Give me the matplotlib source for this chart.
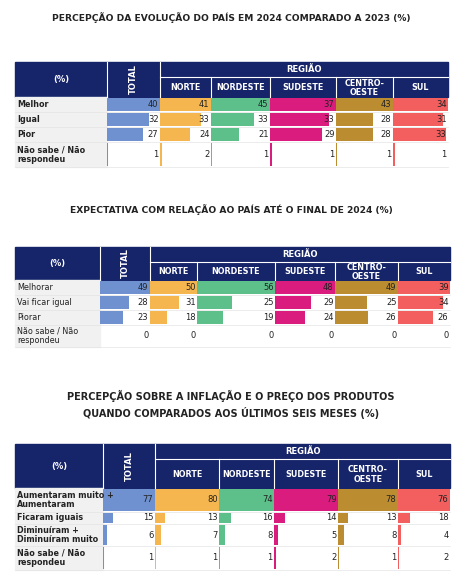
import matplotlib
matplotlib.use("Agg")
import matplotlib.pyplot as plt
from matplotlib.patches import Rectangle

# ── data ──────────────────────────────────────
regions = ["NORTE", "NORDESTE", "SUDESTE", "CENTRO-\nOESTE", "SUL"]

t1_title = "PERCEPÇÃO DA EVOLUÇÃO DO PAÍS EM 2024 COMPARADO A 2023 (%)"
t1_rows = ["Melhor", "Igual", "Pior", "Não sabe / Não\nrespondeu"]
t1_vals = [[40, 41, 45, 37, 43, 34],
           [32, 33, 33, 33, 28, 31],
           [27, 24, 21, 29, 28, 33],
           [1, 2, 1, 1, 1, 1]]

t2_title = "EXPECTATIVA COM RELAÇÃO AO PAÍS ATÉ O FINAL DE 2024 (%)"
t2_rows = ["Melhorar", "Vai ficar igual", "Piorar", "Não sabe / Não\nrespondeu"]
t2_vals = [[49, 50, 56, 48, 49, 39],
           [28, 31, 25, 29, 25, 34],
           [23, 18, 19, 24, 26, 26],
           [0, 0, 0, 0, 0, 0]]

t3_title = "PERCEPÇÃO SOBRE A INFLAÇÃO E O PREÇO DOS PRODUTOS\nQUANDO COMPARADOS AOS ÚLTIMOS SEIS MESES (%)"
t3_rows = ["Aumentaram muito +\nAumentaram", "Ficaram iguais",
           "Diminuíram +\nDiminuíram muito", "Não sabe / Não\nrespondeu"]
t3_vals = [[77, 80, 74, 79, 78, 76],
           [15, 13, 16, 14, 13, 18],
           [6, 7, 8, 5, 8, 4],
           [1, 1, 1, 2, 1, 2]]

NAVY = "#16246a"
COLORS = ["#6f91cf", "#f6b64f", "#5dc08b", "#d91c7e", "#bb8c30", "#f35e5e"]

fig = plt.figure(figsize=(4.62, 5.80), dpi=100)
ax = fig.add_axes([0, 0, 1, 1])
ax.set_xlim(0, 462)
ax.set_ylim(580, 0)
ax.axis("off")


def draw_table(title, title_y, title_fs, rows, vals, cols, y_top, y_mid, y_head, row_h, bold):
    ax.text(231, title_y, title, ha="center", va="center", fontsize=title_fs,
            fontweight="bold", color="#222222", linespacing=1.5)
    x0, x_end = cols[0], cols[-1]
    # header
    ax.add_patch(Rectangle((x0, y_top), x_end - x0, y_head - y_top, color=NAVY))
    ax.plot([cols[2], x_end], [y_mid, y_mid], color="white", lw=0.8)
    for x in cols[1:-1]:
        ax.plot([x, x], [y_mid if x > cols[2] else y_top, y_head], color="white", lw=0.8)
    ax.text((x0 + cols[1]) / 2, (y_top + y_head) / 2, "(%)", color="white",
            ha="center", va="center", fontsize=6, fontweight="bold")
    ax.text((cols[1] + cols[2]) / 2, (y_top + y_head) / 2, "TOTAL", color="white",
            ha="center", va="center", fontsize=6, fontweight="bold", rotation=90)
    ax.text((cols[2] + x_end) / 2, (y_top + y_mid) / 2, "REGIÃO", color="white",
            ha="center", va="center", fontsize=6, fontweight="bold")
    for i, r in enumerate(regions):
        ax.text((cols[i + 2] + cols[i + 3]) / 2, (y_mid + y_head) / 2 + 1, r,
                color="white", ha="center", va="center", fontsize=5.8,
                fontweight="bold", linespacing=1.0)
    # body
    ys = [y_head]
    for h in row_h:
        ys.append(ys[-1] + h)
    ax.add_patch(Rectangle((x0, y_head), cols[1] - x0, ys[-1] - y_head, color="#f1f1f1"))
    for j in range(6):
        cl, cr = cols[j + 1], cols[j + 2]
        colmax = max(v[j] for v in vals)
        for i, row in enumerate(vals):
            v = row[j]
            yc = (ys[i] + ys[i + 1]) / 2
            h = ys[i + 1] - ys[i] - 1.5
            w = (cr - cl) * v / colmax if colmax else 0
            ax.barh(yc, max(w, 1.2 if v else 0), left=cl, height=h,
                    color=COLORS[j], edgecolor="none")
            ax.text(cr - 1.5, yc, str(v), ha="right", va="center", fontsize=6,
                    color="#222222")
    for i, lab in enumerate(rows):
        ax.text(x0 + 2, (ys[i] + ys[i + 1]) / 2, lab, ha="left", va="center",
                fontsize=5.8, color="#222222", fontweight="bold" if bold else "normal",
                linespacing=1.1)
    for y in ys[1:]:
        ax.plot([x0, x_end], [y, y], color="#e4e4e4", lw=0.5)


draw_table(t1_title, 18, 6.6, t1_rows, t1_vals,
           [15, 107, 160, 211, 270, 336, 393, 448], 62, 77, 97, [15, 15, 15, 25], True)
draw_table(t2_title, 210, 6.6, t2_rows, t2_vals,
           [15, 100, 150, 197, 275, 335, 398, 450], 247, 262, 280, [15, 15, 15, 22], False)
draw_table(t3_title, 404, 7.0, t3_rows, t3_vals,
           [15, 103, 155, 219, 274, 338, 398, 450], 444, 459, 488, [24, 12, 22, 24], True)

fig.savefig("out.png", dpi=100, facecolor="white")
